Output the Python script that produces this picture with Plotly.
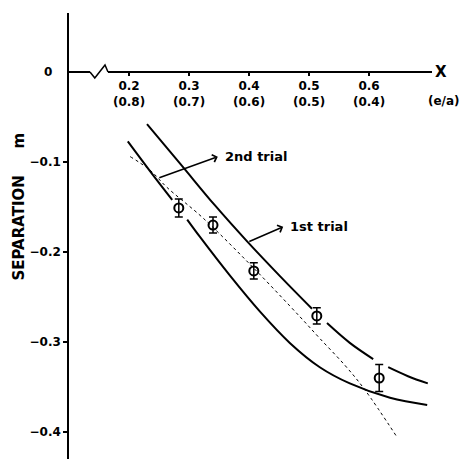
import plotly.graph_objects as go

# ---- data ----
pt_x = [0.283, 0.340, 0.408, 0.513, 0.617]
pt_y = [-0.151, -0.170, -0.221, -0.271, -0.340]
pt_err = [0.010, 0.009, 0.009, 0.009, 0.015]

# 1st trial (upper solid curve), None = gap around data points
t1_x = [0.230, 0.288, 0.343, 0.398, 0.452, 0.505, None, 0.530, 0.568, 0.607, None, 0.632, 0.665, 0.698]
t1_y = [-0.058, -0.104, -0.148, -0.189, -0.227, -0.263, None, -0.279, -0.301, -0.319, None, -0.328, -0.338, -0.346]

# 2nd trial (lower solid curve)
t2_x = [0.198, 0.235, 0.272, None, 0.297, 0.318, 0.368, 0.418, 0.468, 0.518, 0.568, 0.635, 0.697]
t2_y = [-0.077, -0.110, -0.142, None, -0.164, -0.183, -0.226, -0.266, -0.301, -0.328, -0.346, -0.362, -0.370]

# dashed curve
d_x = [0.202, 0.235, 0.263, 0.323, 0.408, 0.485, 0.518, 0.560, 0.593, 0.647]
d_y = [-0.094, -0.109, -0.128, -0.162, -0.218, -0.272, -0.296, -0.326, -0.353, -0.406]

x_ticks = [0.2, 0.3, 0.4, 0.5, 0.6]
x_ticktext = ["0.2<br>(0.8)", "0.3<br>(0.7)", "0.4<br>(0.6)", "0.5<br>(0.5)", "0.6<br>(0.4)"]
y_ticks = [-0.1, -0.2, -0.3, -0.4]
y_ticktext = ["\u22120.1", "\u22120.2", "\u22120.3", "\u22120.4"]

# axis-break zigzag
brk_x = [0.135, 0.143, 0.160, 0.165]
brk_y = [0.0, -0.0067, 0.0078, 0.0]

FONT = "DejaVu Sans"

fig = go.Figure()
fig.add_trace(go.Scatter(x=t1_x, y=t1_y, mode="lines", line=dict(color="black", width=2, shape="spline"),
                         connectgaps=False, showlegend=False))
fig.add_trace(go.Scatter(x=t2_x, y=t2_y, mode="lines", line=dict(color="black", width=2, shape="spline"),
                         connectgaps=False, showlegend=False))
fig.add_trace(go.Scatter(x=d_x, y=d_y, mode="lines", line=dict(color="black", width=1, dash="3px,3px", shape="spline"),
                         showlegend=False))
fig.add_trace(go.Scatter(x=pt_x, y=pt_y, mode="markers",
                         marker=dict(symbol="circle-open", size=9, color="black", line=dict(width=2)),
                         error_y=dict(type="data", array=pt_err, color="black", thickness=1.5, width=4),
                         showlegend=False))

# axis break
fig.add_shape(type="rect", x0=brk_x[0], x1=brk_x[-1], y0=-0.002, y1=0.002,
              fillcolor="white", line=dict(width=0), layer="above")
path = "M " + " L ".join(f"{a},{b}" for a, b in zip(brk_x, brk_y))
fig.add_shape(type="path", path=path, line=dict(color="black", width=1.5), layer="above")

ann_font = dict(family=FONT, size=13, color="black", weight="bold")
# arrows
fig.add_annotation(x=0.348, y=-0.094, ax=0.248, ay=-0.118, axref="x", ayref="y", xref="x", yref="y",
                   text="", showarrow=True, arrowhead=4, arrowsize=1, arrowwidth=1.5, arrowcolor="black")
fig.add_annotation(x=0.457, y=-0.172, ax=0.398, ay=-0.189, axref="x", ayref="y", xref="x", yref="y",
                   text="", showarrow=True, arrowhead=4, arrowsize=1, arrowwidth=1.5, arrowcolor="black")
fig.add_annotation(x=0.356, y=-0.094, text="2nd trial", showarrow=False, xanchor="left", font=ann_font)
fig.add_annotation(x=0.465, y=-0.172, text="1st trial", showarrow=False, xanchor="left", font=ann_font)

# axis labels
title_font = dict(family=FONT, size=15, color="black", weight="bold")
fig.add_annotation(x=19 / 462, xref="paper", xanchor="center", y=-0.174, yref="y", text="SEPARATION",
                   textangle=-90, showarrow=False, font=title_font)
fig.add_annotation(x=19 / 462, xref="paper", xanchor="center", y=-0.076, yref="y", text="m",
                   textangle=-90, showarrow=False, font=title_font)
fig.add_annotation(x=48 / 462, xref="paper", xanchor="center", y=0, yref="y", text="0", showarrow=False,
                   font=dict(family=FONT, size=12, color="black", weight="bold"))
fig.add_annotation(x=433 / 462, xref="paper", y=0, yref="y", text="X", showarrow=False, xanchor="left",
                   font=dict(family=FONT, size=15, color="black", weight="bold"))
fig.add_annotation(x=1.0, xref="paper", y=-0.032, yref="y", text="(e/a)", showarrow=False, xanchor="right",
                   font=dict(family=FONT, size=12, color="black", weight="bold"))

fig.update_layout(
    width=462, height=459, margin=dict(l=0, r=0, t=0, b=0),
    paper_bgcolor="white", plot_bgcolor="white",
    font=dict(family=FONT, size=12, color="black", weight="bold"),
    xaxis=dict(domain=[69 / 462, 432 / 462], range=[0.1, 0.705], anchor="free", position=(459 - 72) / 459,
               showline=True, linecolor="black", linewidth=1.5, showgrid=False, zeroline=False,
               ticks="outside", ticklen=3, tickwidth=1.5, tickcolor="black",
               tickvals=x_ticks, ticktext=x_ticktext,
               tickfont=dict(family=FONT, size=12, color="black", weight="bold")),
    yaxis=dict(domain=[0, (459 - 13) / 459], range=[-0.43, 0.0656], anchor="x",
               showline=True, linecolor="black", linewidth=1.5, showgrid=False, zeroline=False,
               ticks="outside", ticklen=4, tickwidth=1.5, tickcolor="black",
               tickvals=y_ticks, ticktext=y_ticktext,
               tickfont=dict(family=FONT, size=12, color="black", weight="bold")),
)

fig.write_html("out.html")
